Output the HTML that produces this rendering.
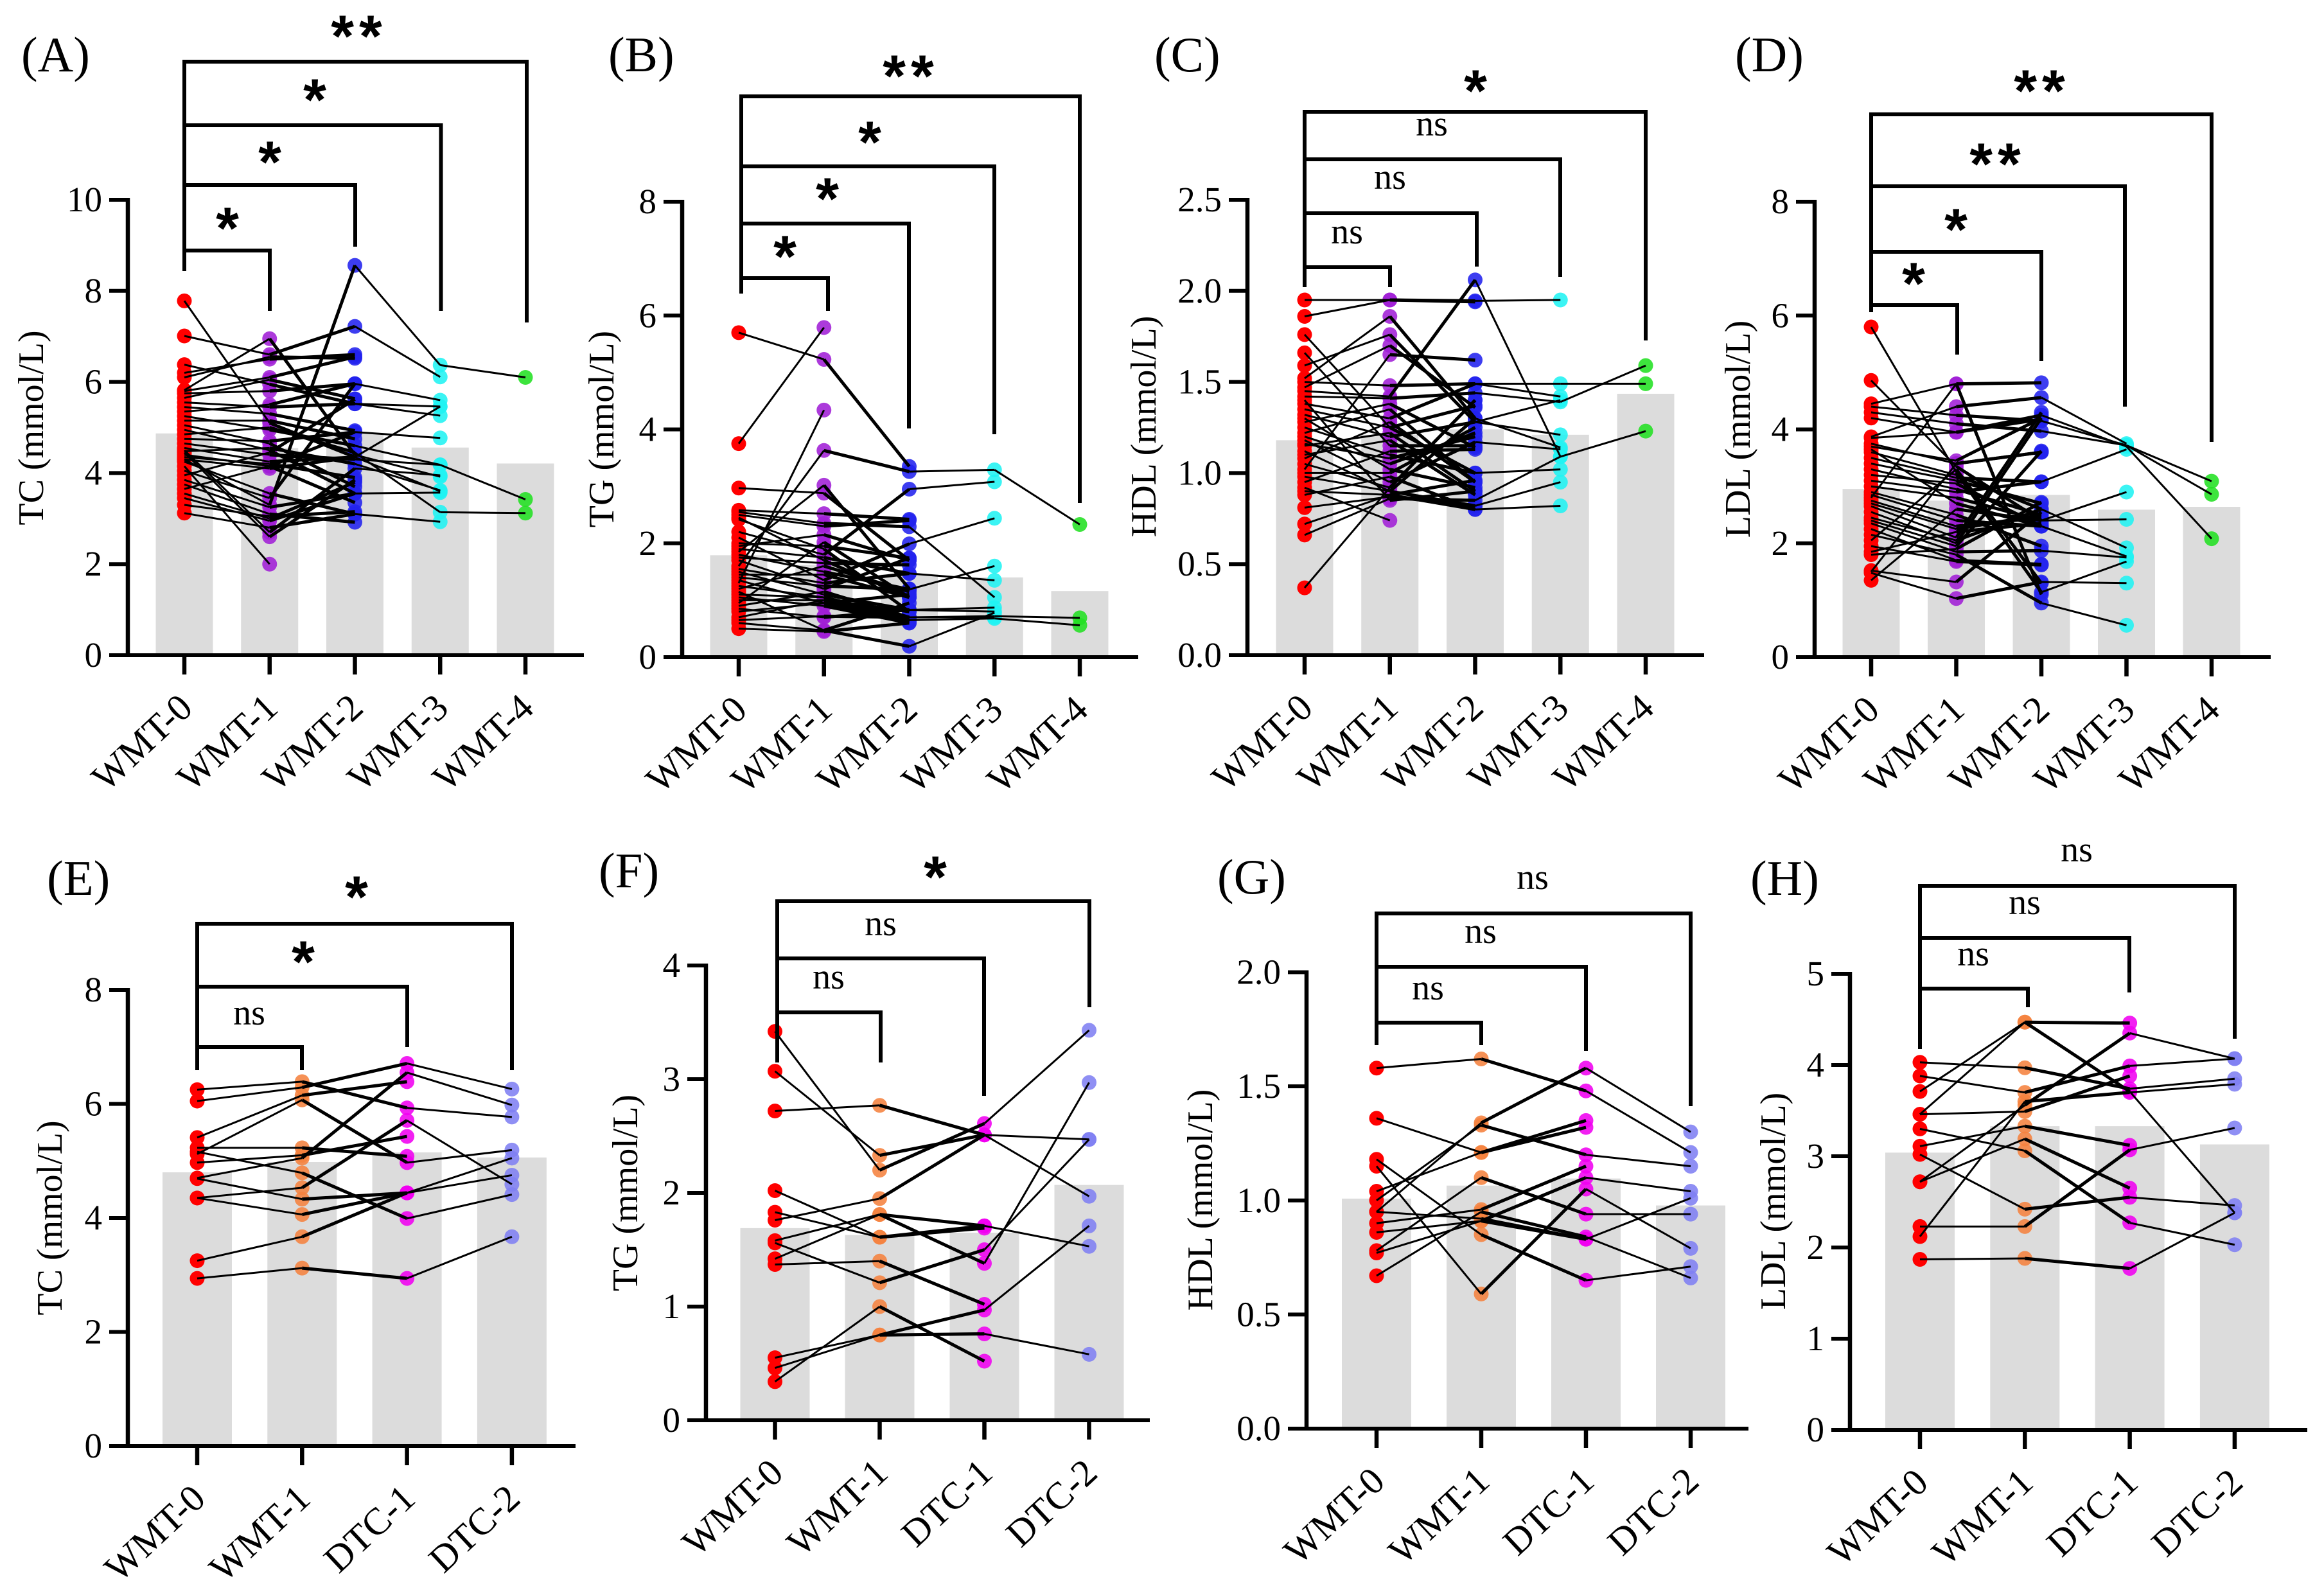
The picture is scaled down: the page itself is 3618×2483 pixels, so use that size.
<!DOCTYPE html>
<html lang="en">
<head>
<meta charset="utf-8">
<title>Lipid measures across WMT and DTC time points</title>
<style>
html,body{margin:0;padding:0;background:#fff;}
svg{display:block;}
text{font-family:"Liberation Serif","Times New Roman",serif;fill:#000;}
.star{font-family:"Liberation Sans",Arial,sans-serif;font-weight:700;}
</style>
</head>
<body>
<svg id="figure" xmlns="http://www.w3.org/2000/svg" width="3618" height="2483" viewBox="0 0 3618 2483"></svg>
<script>
const catsWmt = ["WMT-0","WMT-1","WMT-2","WMT-3","WMT-4"];
const catsDtc = ["WMT-0","WMT-1","DTC-1","DTC-2"];
const colorsWmt = ["#ff0000","#a01fd6","#2222ee","#20f2f2","#22e022"];
const colorsDtc = ["#ff0000","#f5823f","#f000f0","#7f7ff2"];

const ticksA = ["0","2","4","6","8","10"];
const ticksB = ["0","2","4","6","8"];
const ticksC = ["0.0","0.5","1.0","1.5","2.0","2.5"];
const ticksD = ["0","2","4","6","8"];
const ticksE = ["0","2","4","6","8"];
const ticksF = ["0","1","2","3","4"];
const ticksG = ["0.0","0.5","1.0","1.5","2.0"];
const ticksH = ["0","1","2","3","4","5"];

const meansA = [4.87,4.55,4.88,4.56,4.21];
const meansB = [1.79,1.62,1.45,1.40,1.16];
const meansC = [1.18,1.21,1.24,1.21,1.435];
const meansD = [2.955,2.75,2.85,2.59,2.64];
const meansE = [4.80,4.98,5.15,5.06];
const meansF = [1.69,1.63,1.65,2.07];
const meansG = [1.008,1.065,1.096,0.978];
const meansH = [3.04,3.33,3.33,3.13];

const subjectsA = [
[4.30,3.30,8.56,6.37,6.10],[7.01,6.60,7.22,6.11,null],[7.78,5.10,4.35,3.60,null],[6.38,5.95,5.52,5.26,null],
[6.20,6.50,6.60,null,null],[6.10,6.55,6.52,null,null],[5.82,6.95,4.40,3.92,null],[5.75,5.80,5.96,5.60,null],
[5.65,6.05,5.63,null,null],[5.55,5.45,5.52,5.46,null],[5.45,5.30,4.93,null,null],[5.35,5.50,5.96,null,null],
[5.25,4.95,4.60,4.18,3.42],[5.15,5.15,4.75,null,null],[5.05,4.65,3.70,null,null],[4.95,4.50,3.55,3.57,null],
[4.85,5.00,4.45,3.14,3.12],[4.75,4.70,4.90,4.77,null],[4.65,4.40,4.30,4.18,null],[4.55,4.25,4.35,5.46,null],
[4.48,4.55,4.20,3.62,null],[4.40,4.15,3.35,null,null],[4.35,4.20,3.90,null,null],[4.30,4.10,4.35,null,null],
[4.25,3.55,3.10,2.93,null],[4.15,2.00,null,null,null],[4.05,3.45,5.96,null,null],[3.95,4.45,5.62,null,null],
[3.85,3.25,3.55,null,null],[3.75,3.10,2.92,null,null],[3.65,4.15,4.90,null,null],[3.55,3.00,3.80,null,null],
[3.45,2.95,3.55,null,null],[3.30,3.05,3.15,null,null],[3.12,2.80,3.10,null,null],[5.80,6.10,6.55,null,null],
[4.45,2.60,3.85,null,null],[4.50,2.70,4.10,3.95,null]
];
const subjectsB = [
[5.70,5.23,3.35,null,null],[3.75,5.79,null,null,null],[1.30,4.34,null,null,null],[1.60,3.63,3.26,3.29,2.33],
[2.97,2.88,1.70,null,null],[1.85,3.02,1.20,null,null],[2.58,2.52,2.42,null,null],[2.55,2.35,2.29,1.05,null],
[2.50,2.30,2.40,null,null],[2.45,1.70,1.05,null,null],[2.42,1.90,0.80,null,null],[2.20,1.80,2.95,3.08,null],
[2.10,1.35,1.99,2.44,null],[2.00,1.95,1.74,null,null],[1.95,2.15,1.70,null,null],[1.90,1.75,1.47,1.35,null],
[1.80,1.50,1.19,1.60,null],[1.75,1.65,1.62,null,null],[1.70,1.20,1.74,null,null],[1.55,1.30,1.47,null,null],
[1.50,1.10,0.83,0.87,null],[1.45,1.45,1.05,null,null],[1.40,1.25,1.19,null,null],[1.35,0.95,1.10,null,null],
[1.25,1.05,0.70,0.72,0.69],[1.20,1.60,1.15,null,null],[1.10,1.05,0.65,null,null],[1.05,0.90,0.60,null,null],
[1.00,1.00,0.65,0.68,0.56],[0.95,2.02,1.05,null,null],[0.90,1.15,0.70,0.70,null],[0.85,0.70,0.83,0.80,null],
[0.80,0.95,0.63,null,null],[0.70,1.00,0.80,null,null],[0.65,0.72,0.70,null,null],[0.60,0.47,0.19,0.78,null],
[0.50,0.45,0.60,null,null],[1.15,0.47,0.95,null,null]
];
const subjectsC = [
[1.95,1.95,1.945,1.95,null],[1.86,1.95,1.94,null,null],[1.76,1.25,1.00,null,null],[1.66,1.15,1.15,null,null],
[1.59,1.76,1.28,1.21,null],[1.52,1.86,1.30,1.14,null],[1.50,1.48,1.49,1.42,null],[1.47,1.70,1.36,null,null],
[1.45,1.42,2.06,1.09,null],[1.42,1.41,1.44,1.39,1.59],[1.38,1.30,1.49,1.49,1.49],[1.02,1.65,1.62,null,null],
[1.35,1.25,1.37,null,null],[1.32,1.20,1.28,1.40,null],[1.28,1.38,1.14,null,null],[1.25,1.10,1.00,1.02,null],
[1.22,1.35,0.95,null,null],[1.20,1.05,1.22,null,null],[1.18,0.95,1.17,1.13,null],[1.15,1.22,0.90,null,null],
[1.12,0.90,1.30,null,null],[1.10,1.18,0.88,null,null],[1.08,1.28,0.95,null,null],[1.05,0.92,1.40,null,null],
[1.00,1.00,1.25,null,null],[0.98,0.90,0.82,null,null],[0.95,1.12,1.13,null,null],[0.92,0.74,null,null,null],
[0.90,0.88,0.96,null,null],[0.88,0.98,0.80,null,null],[0.81,0.87,0.82,0.95,null],[0.72,0.88,0.80,0.82,null],
[0.66,0.86,0.85,1.09,1.23],[0.37,0.92,1.40,null,null],[1.40,0.85,0.90,null,null],[1.30,1.02,0.92,null,null],
[1.16,1.08,1.20,null,null]
];
const subjectsD = [
[5.80,3.25,1.14,1.68,null],[4.86,3.35,2.40,2.42,null],[4.45,4.80,4.82,null,null],[4.40,4.25,4.15,3.72,3.09],
[4.30,4.10,3.97,3.72,2.86],[4.20,3.95,4.25,3.70,2.08],[3.87,4.40,4.56,3.75,null],[2.80,4.80,1.10,null,null],
[3.75,3.40,3.60,null,null],[3.70,3.45,4.20,null,null],[3.60,3.20,2.60,1.92,null],[3.50,3.15,3.08,3.65,null],
[3.40,3.10,2.70,null,null],[3.30,2.95,2.50,null,null],[3.20,3.05,2.30,1.77,null],[3.10,2.90,3.08,null,null],
[3.00,2.80,2.40,2.90,null],[2.90,2.50,1.95,null,null],[2.85,2.40,2.30,null,null],[2.75,2.30,2.45,null,null],
[2.70,2.25,2.50,null,null],[2.65,2.10,4.30,null,null],[2.55,2.00,4.20,null,null],[2.45,2.05,2.60,null,null],
[2.40,1.95,3.62,null,null],[2.35,1.85,1.87,1.75,null],[2.25,1.70,1.63,null,null],[2.15,1.80,0.95,0.56,null],
[2.05,3.30,1.30,null,null],[1.95,1.68,1.62,null,null],[1.85,2.20,2.35,null,null],[1.80,1.90,2.72,null,null],
[1.50,3.40,3.60,null,null],[1.52,1.32,2.55,null,null],[1.48,1.03,1.32,1.30,null],[1.35,2.60,2.40,null,null],
[3.85,3.95,4.18,null,null],[3.65,2.70,2.30,null,null]
];
const subjectsE = [
[6.25,6.39,5.93,5.77],[6.05,6.29,6.71,6.26],[5.41,6.15,6.39,null],[5.12,6.07,4.97,5.19],
[5.23,5.23,5.08,null],[4.97,5.10,5.43,null],[5.16,4.79,3.99,4.41],[4.70,5.05,6.55,5.98],
[4.69,4.33,4.44,5.05],[4.35,4.53,5.71,4.59],[4.35,4.06,4.44,4.75],[3.25,3.67,4.44,null],
[2.94,3.12,2.94,3.67]
];
const subjectsF = [
[3.42,2.20,2.61,3.43],[3.07,2.33,2.51,2.47],[2.72,2.77,2.51,1.97],[2.02,1.61,1.71,1.53],
[1.83,1.61,1.69,null],[1.76,1.95,2.51,null],[1.58,1.81,1.71,null],[1.56,1.21,1.50,2.47],
[1.42,1.81,1.38,2.97],[1.37,1.40,1.02,null],[0.55,0.75,0.97,1.71],[0.46,0.75,0.76,0.58],
[0.34,1.00,0.52,null]
];
const subjectsG = [
[1.58,1.62,1.48,1.21],[1.36,1.21,1.35,null],[1.18,0.85,0.65,0.71],[1.15,0.59,1.05,0.79],
[1.04,1.21,1.32,null],[1.00,1.33,1.20,1.15],[0.95,1.34,1.58,1.30],[0.95,0.92,0.83,1.01],
[0.90,0.96,1.15,null],[0.86,0.91,0.83,null],[0.78,1.10,0.94,0.94],[0.77,0.91,1.10,1.04],
[0.67,0.95,0.84,0.66]
];
const subjectsH = [
[4.03,3.97,3.74,3.85],[3.88,3.70,3.99,4.07],[3.71,4.47,4.46,null],[3.46,4.47,3.71,2.38],
[3.46,3.49,3.88,null],[3.30,3.06,2.27,2.03],[3.11,3.33,3.12,null],[3.02,2.42,2.55,2.46],
[2.72,3.56,4.35,4.07],[2.72,3.19,2.65,null],[2.23,2.23,3.07,3.31],[2.12,3.60,3.70,3.79],
[1.87,1.88,1.77,2.38]
];

const panels = [
 {id:"a",tag:"(A)",tagX:33,tagY:111,title:"TC (mmol/L)",titleX:67,titleY:666,axisX:199,y0:1020,yTop:311,max:10,ticks:ticksA,cats:catsWmt,colors:colorsWmt,means:meansA,subjects:subjectsA,x0:287,step:132.75,xEnd:909,barW:89,leftX:287,leftEnd:422,
  brackets:[[820,96,502,"**",559,45],[686.5,195,484,"*",490,144],[553,288,384,"*",420,241],[420,390,484,"*",354,344]]},
 {id:"b",tag:"(B)",tagX:947,tagY:111,title:"TG (mmol/L)",titleX:955,titleY:668,axisX:1062,y0:1023,yTop:314,max:8,ticks:ticksB,cats:catsWmt,colors:colorsWmt,means:meansB,subjects:subjectsB,x0:1150,step:132.75,xEnd:1772,barW:89,leftX:1154,leftEnd:457,
  brackets:[[1681,150,783,"**",1418,107],[1548,259,676,"*",1354,210],[1415,348,667,"*",1288,298],[1289,433,484,"*",1222,388]]},
 {id:"c",tag:"(C)",tagX:1797,tagY:111,title:"HDL (mmol/L)",titleX:1799,titleY:664,axisX:1942,y0:1020,yTop:311,max:2.5,ticks:ticksC,cats:catsWmt,colors:colorsWmt,means:meansC,subjects:subjectsC,x0:2031,step:132.75,xEnd:2653,barW:89,leftX:2031,leftEnd:447,
  brackets:[[2562,174,530,"*",2297,130],[2429,248,431,"ns",2229,196],[2299,332,415,"ns",2164,279],[2164,416,447,"ns",2097,364]]},
 {id:"d",tag:"(D)",tagX:2701,tagY:111,title:"LDL (mmol/L)",titleX:2724,titleY:668,axisX:2825,y0:1023,yTop:314,max:8,ticks:ticksD,cats:catsWmt,colors:colorsWmt,means:meansD,subjects:subjectsD,x0:2913,step:132.5,xEnd:3535,barW:89,leftX:2913,leftEnd:486,
  brackets:[[3443,178,688,"**",3179,130],[3308,290,633,"**",3110,244],[3178,392,562,"*",3045,346],[3047,475,552,"*",2979,430]]},
 {id:"e",tag:"(E)",tagX:73,tagY:1393,title:"TC (mmol/L)",titleX:96,titleY:1896,axisX:199,y0:2251,yTop:1541,max:8,ticks:ticksE,cats:catsDtc,colors:colorsDtc,means:meansE,subjects:subjectsE,x0:307,step:163.3,xEnd:896,barW:108,leftX:307,leftEnd:1666,
  brackets:[[797,1438,1666,"*",555,1385],[634,1536,1630,"*",472,1486],[470,1630,1666,"ns",388,1580]]},
 {id:"f",tag:"(F)",tagX:932,tagY:1381,title:"TG (mmol/L)",titleX:992,titleY:1857,axisX:1099,y0:2211,yTop:1503,max:4,ticks:ticksF,cats:catsDtc,colors:colorsDtc,means:meansF,subjects:subjectsF,x0:1206.5,step:163,xEnd:1790,barW:108,leftX:1210,leftEnd:1654,
  brackets:[[1696,1403,1568,"*",1456,1354],[1532,1492,1706,"ns",1371,1441],[1371,1576,1654,"ns",1290,1524]]},
 {id:"g",tag:"(G)",tagX:1895,tagY:1391,title:"HDL (mmol/L)",titleX:1887,titleY:1868,axisX:2034,y0:2224,yTop:1513.5,max:2,ticks:ticksG,cats:catsDtc,colors:colorsDtc,means:meansG,subjects:subjectsG,x0:2143,step:163,xEnd:2722,barW:108,leftX:2143,leftEnd:1627,
  brackets:[[2632,1422,1722,"ns",2386,1369],[2469,1505,1636,"ns",2305,1453],[2306,1592,1627,"ns",2223,1541]]},
 {id:"h",tag:"(H)",tagX:2725,tagY:1393,title:"LDL (mmol/L)",titleX:2779,titleY:1870,axisX:2880,y0:2226,yTop:1516,max:5,ticks:ticksH,cats:catsDtc,colors:colorsDtc,means:meansH,subjects:subjectsH,x0:2989,step:163.3,xEnd:3592,barW:108,leftX:2989,leftEnd:1633,
  brackets:[[3479,1379,1617,"ns",3233,1326],[3315,1460,1545,"ns",3152,1408],[3157,1539,1568,"ns",3072,1488]]}
];

const NS = "http://www.w3.org/2000/svg";
const root = document.getElementById("figure");
function make(tag, parent, attrs){
  const el = document.createElementNS(NS, tag);
  for (const k in attrs) el.setAttribute(k, attrs[k]);
  parent.appendChild(el);
  return el;
}

panels.forEach(function(p){
  const xScale = function(i){ return p.x0 + i * p.step; };
  const yScale = function(v){ return p.y0 - (v / p.max) * (p.y0 - p.yTop); };

  const g = make("g", root, {});
  
  

  // bars
  p.means.forEach(function(m, i){
    const bar = make("rect", g, {x:xScale(i)-p.barW/2, y:yScale(m), width:p.barW, height:p.y0-yScale(m), fill:"#dcdcdc"});
    
    
  });

  // dots
  const dotGroup = make("g", g, {});
  
  
  p.subjects.forEach(function(row){
    row.forEach(function(v, i){
      if (v === null) return;
      const dot = make("circle", dotGroup, {cx:xScale(i), cy:yScale(v), r:11.5, fill:p.colors[i], "fill-opacity":i===0?1:0.88});
      
      
    });
  });

  // lines
  const lineGroup = make("g", g, {});
  
  
  p.subjects.forEach(function(row){
    for (let i = 0; i < row.length - 1; i++){
      if (row[i] === null || row[i+1] === null) continue;
      const seg = make("line", lineGroup, {x1:xScale(i), y1:yScale(row[i]), x2:xScale(i+1), y2:yScale(row[i+1]), stroke:"#000", "stroke-width":i===1?5:3});
      
      
    }
  });

  // axes
  const yAxis = make("line", g, {x1:p.axisX, y1:p.yTop-3, x2:p.axisX, y2:p.y0+3, stroke:"#000", "stroke-width":6.5});
  
  
  const xAxis = make("line", g, {x1:p.axisX-29, y1:p.y0, x2:p.xEnd, y2:p.y0, stroke:"#000", "stroke-width":6});
  
  

  p.ticks.forEach(function(label, i){
    const v = parseFloat(label);
    const tick = make("line", g, {x1:p.axisX-29, y1:yScale(v), x2:p.axisX, y2:yScale(v), stroke:"#000", "stroke-width":6});
    
    
    const t = make("text", g, {x:p.axisX-40, y:yScale(v)+18, "text-anchor":"end", "font-size":55});
    t.textContent = label;
    
    
  });

  p.cats.forEach(function(label, i){
    const tick = make("line", g, {x1:xScale(i), y1:p.y0, x2:xScale(i), y2:p.y0+30, stroke:"#000", "stroke-width":6.5});
    
    
    const tx = xScale(i) + 16, ty = p.y0 + 86;
    const t = make("text", g, {x:tx, y:ty, "text-anchor":"end", "font-size":59, transform:"rotate(-43 " + tx + " " + ty + ")"});
    t.textContent = label;
    
    
  });

  // y title and panel tag
  const title = make("text", g, {x:p.titleX, y:p.titleY, "text-anchor":"middle", "font-size":56, transform:"rotate(-90 " + p.titleX + " " + p.titleY + ")"});
  title.textContent = p.title;
  
  
  const tag = make("text", g, {x:p.tagX, y:p.tagY, "font-size":77});
  tag.textContent = p.tag;
  
  

  // significance brackets
  p.brackets.forEach(function(b, i){
    const top = b[1];
    const stemEnd = p.leftEnd;
    const d = "M" + p.leftX + " " + stemEnd + "V" + top + "H" + b[0] + "V" + b[2];
    const path = make("path", g, {d:d, fill:"none", stroke:"#000", "stroke-width":6});
    
    
    const isStar = b[3].charAt(0) === "*";
    const mark = make("text", g, isStar
      ? {x:b[4], y:b[5]+43, "text-anchor":"middle", "font-size":92, "letter-spacing":b[3].length>1?8:0, "class":"star"}
      : {x:b[4], y:b[5]+15, "text-anchor":"middle", "font-size":56});
    mark.textContent = b[3];
    
    
  });
});
</script>
</body>
</html>
